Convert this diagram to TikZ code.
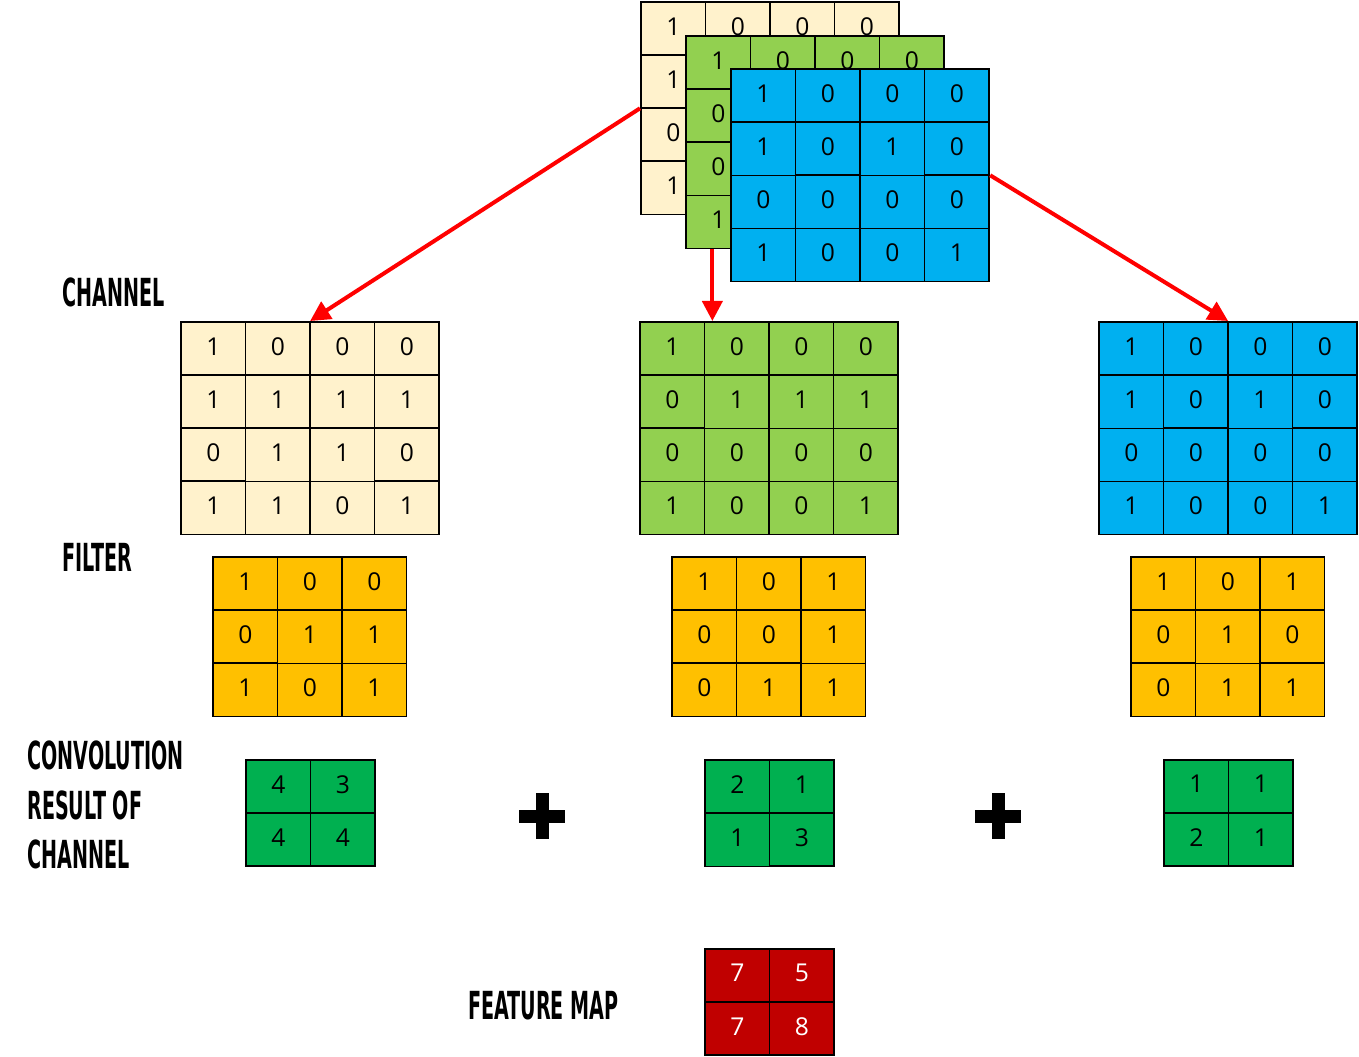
\documentclass[tikz,border=0pt]{standalone}
\usepackage{fontspec}
\setmainfont{Open Sans}
\newfontfamily\digitfont{Open Sans}
\newfontfamily\headfont[FakeStretch=0.55]{DejaVu Sans Condensed Bold}
\usepackage{tikz}
\usetikzlibrary{matrix, arrows.meta, positioning}

\definecolor{creamfill}{HTML}{FFF2CC}
\definecolor{leafgreen}{HTML}{92D050}
\definecolor{skyblue}{HTML}{00B0F0}
\definecolor{amberfill}{HTML}{FFC000}
\definecolor{sumgreen}{HTML}{00B050}
\definecolor{mapred}{HTML}{C00000}

\begin{document}
\begin{tikzpicture}[
    x=0.2mm, y=-0.2mm,
    cell/.style={draw=black, line width=0.3mm, minimum width=12.9mm, minimum height=10.6mm, inner sep=0pt, text depth=1mm, font=\digitfont\fontsize{14}{16}\selectfont},
    grid/.style={matrix of nodes, matrix anchor=north west, inner sep=0pt, column sep=-0.3mm, row sep=-0.3mm, nodes={cell, fill=#1}},
    heading/.style={anchor=west, align=left, inner sep=0pt, font=\headfont\fontsize{22}{28.4}\selectfont},
    arrow/.style={-{Triangle[length=4mm, width=4mm]}, line width=0.8mm, red},
    plussign/.style={minimum size=9.2mm, inner sep=0pt, path picture={
        \fill[black] ([xshift=-1.3mm]path picture bounding box.north) rectangle ([xshift=1.3mm]path picture bounding box.south);
        \fill[black] ([yshift=1.3mm]path picture bounding box.west) rectangle ([yshift=-1.3mm]path picture bounding box.east);}}
]
\useasboundingbox (0,0) rectangle (1359,1057);

% Input stack
\matrix (stA) [grid=creamfill] at (640,1) {
1 & 0 & 0 & 0\\ 1 & 1 & 1 & 1\\ 0 & 1 & 1 & 0\\ 1 & 1 & 0 & 1\\};
\matrix (stB) [grid=leafgreen] at (685,35) {
1 & 0 & 0 & 0\\ 0 & 1 & 1 & 1\\ 0 & 0 & 0 & 0\\ 1 & 0 & 0 & 1\\};
\matrix (stC) [grid=skyblue] at (730,68) {
1 & 0 & 0 & 0\\ 1 & 0 & 1 & 0\\ 0 & 0 & 0 & 0\\ 1 & 0 & 0 & 1\\};

% Channels
\matrix (chA) [grid=creamfill] at (180,321) {
1 & 0 & 0 & 0\\ 1 & 1 & 1 & 1\\ 0 & 1 & 1 & 0\\ 1 & 1 & 0 & 1\\};
\matrix (chB) [grid=leafgreen] at (639,321) {
1 & 0 & 0 & 0\\ 0 & 1 & 1 & 1\\ 0 & 0 & 0 & 0\\ 1 & 0 & 0 & 1\\};
\matrix (chC) [grid=skyblue] at (1098,321) {
1 & 0 & 0 & 0\\ 1 & 0 & 1 & 0\\ 0 & 0 & 0 & 0\\ 1 & 0 & 0 & 1\\};

% Filters
\matrix (fiA) [grid=amberfill] at (212,556) {
1 & 0 & 0\\ 0 & 1 & 1\\ 1 & 0 & 1\\};
\matrix (fiB) [grid=amberfill] at (671,556) {
1 & 0 & 1\\ 0 & 0 & 1\\ 0 & 1 & 1\\};
\matrix (fiC) [grid=amberfill] at (1130,556) {
1 & 0 & 1\\ 0 & 1 & 0\\ 0 & 1 & 1\\};

% Convolution results
\matrix (cvA) [grid=sumgreen] at (245,759) {
4 & 3\\ 4 & 4\\};
\matrix (cvB) [grid=sumgreen] at (704,759) {
2 & 1\\ 1 & 3\\};
\matrix (cvC) [grid=sumgreen] at (1163,759) {
1 & 1\\ 2 & 1\\};

\node[plussign] (plusA) at (542,816) {};
\node[plussign] (plusB) at (998,816) {};

% Feature map
\matrix (fmap) [grid=mapred, nodes={text=white}] at (704,948) {
7 & 5\\ 7 & 8\\};

% Labels
\node[heading] (lblchannel) at (62,292) {CHANNEL};
\node[heading] (lblfilter) at (62,557) {FILTER};
\node[heading] (lblconv) at (27,805) {CONVOLUTION\\RESULT OF\\CHANNEL};
\node[heading] (lblmap) at (468,1006) {FEATURE MAP};

% Arrows
\draw[arrow] (stA.west) -- (chA.north);
\draw[arrow] ([xshift=-1.2mm]stB-4-1.south) -- ([xshift=-1.2mm]stB-4-1.south |- chB.north);
\draw[arrow] (stC.east) -- (chC.north);

\end{tikzpicture}
\end{document}
